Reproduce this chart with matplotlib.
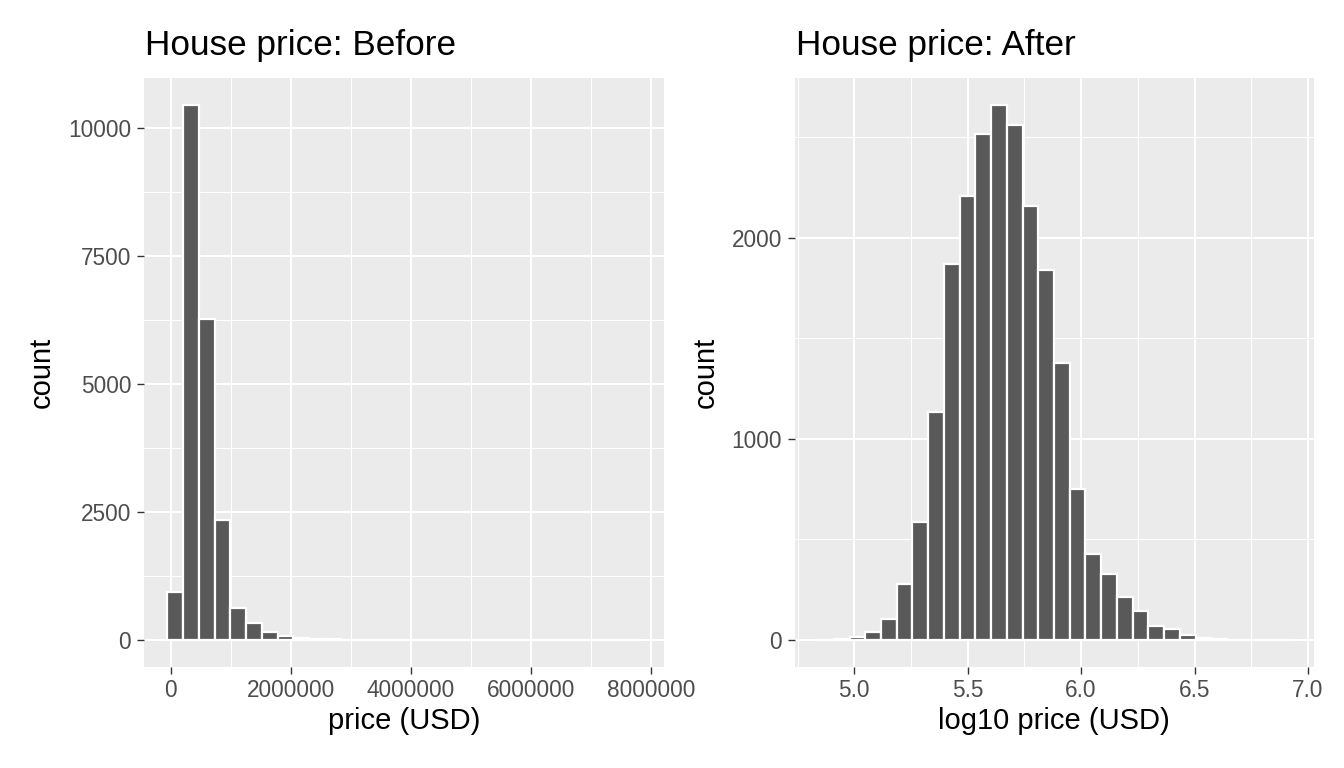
import numpy as np
import matplotlib
matplotlib.use("Agg")
import matplotlib.pyplot as plt
from matplotlib.ticker import FixedLocator, FixedFormatter

plt.rcParams['font.family'] = ['Liberation Sans', 'DejaVu Sans']

# ---------------- data ----------------
# Left: price (USD), 30 bins between min and max price (bin centres)
price_min = 75000
price_max = 7700000
price_counts = [930, 10455, 6271, 2335, 630, 325, 160, 75, 38, 20,
                12, 8, 5, 3, 2, 2, 1, 1, 0, 1,
                0, 0, 0, 0, 0, 0, 0, 0, 0, 1]
price_xticks = [0, 2000000, 4000000, 6000000, 8000000]
price_xticklabels = ["0", "2000000", "4000000", "6000000", "8000000"]
price_xminor = [1000000, 3000000, 5000000, 7000000]
price_yticks = [0, 2500, 5000, 7500, 10000]
price_yminor = [1250, 3750, 6250, 8750]

# Right: log10 price, 30 bins
log_min = 4.875
log_max = 6.886
log_counts = [2, 6, 16, 40, 104, 276, 587, 1136, 1869, 2208,
              2515, 2660, 2561, 2156, 1838, 1377, 750, 427, 329, 213,
              146, 70, 52, 25, 10, 3, 2, 1, 0, 1]
log_xticks = [5.0, 5.5, 6.0, 6.5, 7.0]
log_xticklabels = ["5.0", "5.5", "6.0", "6.5", "7.0"]
log_xminor = [4.75, 5.25, 5.75, 6.25, 6.75]
log_yticks = [0, 1000, 2000]
log_yminor = [500, 1500, 2500]

titles = ["House price: Before", "House price: After"]
xlabels = ["price (USD)", "log10 price (USD)"]

# ---------------- style ----------------
W, H = 1344, 768
fig = plt.figure(figsize=(W / 100, H / 100), dpi=100)
fig.patch.set_facecolor('white')

BG = '#EBEBEB'
BAR = '#595959'
TICK_FS = 16.3
AX_FS = 21
TITLE_FS = 25.3


def px(x, y):
    return x / W, 1 - y / H


def draw(rect, vmin, vmax, counts, xticks, xticklabels, xminor, yticks, yminor,
         title, xlabel, title_x, ylab_x):
    ax = fig.add_axes(rect)
    n = len(counts)
    w = (vmax - vmin) / (n - 1)
    centers = vmin + w * np.arange(n)
    ax.set_facecolor(BG)
    ax.bar(centers, counts, width=w, color=BAR, edgecolor='white',
           linewidth=1.6, zorder=3)
    lo, hi = vmin - w / 2, vmax + w / 2
    r = hi - lo
    ax.set_xlim(lo - 0.05 * r, hi + 0.05 * r)
    m = max(counts)
    ax.set_ylim(-0.05 * m, 1.05 * m)
    ax.xaxis.set_major_locator(FixedLocator(xticks))
    ax.xaxis.set_major_formatter(FixedFormatter(xticklabels))
    ax.xaxis.set_minor_locator(FixedLocator(xminor))
    ax.yaxis.set_major_locator(FixedLocator(yticks))
    ax.yaxis.set_minor_locator(FixedLocator(yminor))
    ax.grid(which='major', color='white', linewidth=1.45, zorder=1)
    ax.grid(which='minor', color='white', linewidth=0.75, zorder=1)
    ax.set_axisbelow(True)
    for s in ax.spines.values():
        s.set_visible(False)
    ax.tick_params(which='major', length=5, width=1.0, color='#333333',
                   labelsize=TICK_FS, labelcolor='#4D4D4D', pad=4)
    ax.tick_params(which='minor', length=0)
    # titles / labels
    fig.text(*px(title_x, 55), title, fontsize=TITLE_FS, color='black',
             ha='left', va='baseline')
    cx = (rect[0] + rect[2] / 2)
    fig.text(cx, 1 - 721 / H, xlabel, fontsize=AX_FS, color='black',
             ha='center', va='center')
    fig.text(*px(ylab_x, 372.5), 'count', fontsize=AX_FS, color='black',
             ha='center', va='center', rotation=90)
    return ax


bottom = (H - 666.7) / H
height = (666.7 - 78.3) / H

draw([143.6 / W, bottom, 520.7 / W, height], price_min, price_max,
     price_counts, price_xticks, price_xticklabels, price_xminor,
     price_yticks, price_yminor, titles[0], xlabels[0], 145, 41.7)

draw([794.5 / W, bottom, 519.0 / W, height], log_min, log_max,
     log_counts, log_xticks, log_xticklabels, log_xminor,
     log_yticks, log_yminor, titles[1], xlabels[1], 796, 705.5)

fig.savefig('out.png', dpi=100, facecolor='white')
